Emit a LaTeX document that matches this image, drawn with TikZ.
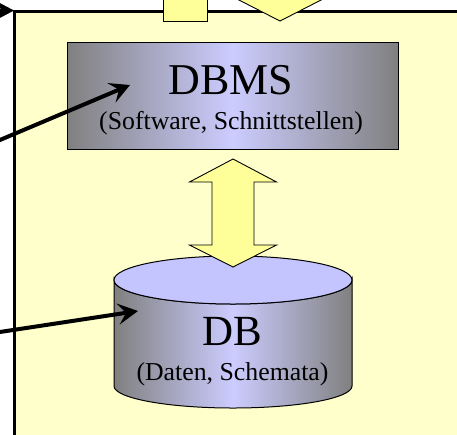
\documentclass[tikz,border=0pt]{standalone}
\usepackage{fontspec}
\setmainfont{Liberation Serif}
\usetikzlibrary{arrows.meta}
\definecolor{bgyellow}{HTML}{FFFFCC}
\definecolor{arrowyellow}{HTML}{FFFF99}
\definecolor{lav}{HTML}{CCCCFF}
\definecolor{lavtop}{HTML}{C4C4FF}
\definecolor{sidegray}{HTML}{808080}
\tikzset{
  panel/.style={fill=bgyellow, draw=black, line width=3pt},
  bigarrow/.style={fill=arrowyellow, draw=black, line width=0.9pt, line join=miter},
  gradbox/.style={draw=black, line width=1pt, left color=sidegray, right color=sidegray, middle color=lav},
  pointer/.style={line width=4pt, -{Stealth[length=20pt,width=21pt,inset=8pt]}},
  titletext/.style={font=\fontsize{44}{44}\selectfont, anchor=base, inner sep=0pt},
  subtext/.style={font=\fontsize{25.8}{25.8}\selectfont, anchor=base, inner sep=0pt},
}
\begin{document}
\begin{tikzpicture}[x=1pt,y=-1pt]
\useasboundingbox (0,0) rectangle (457,434);
\clip (0,0) rectangle (457,434);
% panel
\draw[panel] (14,11) rectangle (490,470);
% top arrows (partly visible)
\draw[bigarrow] (163,-10) -- (163,21) -- (207,21) -- (207,-10);
\draw[bigarrow] (259,-30) -- (259,-1) -- (237,-1) -- (280,21) -- (323,-1) -- (301,-1) -- (301,-30) -- cycle;
% DBMS box
\node[gradbox, minimum width=331pt, minimum height=107pt, inner sep=0pt] (dbms) at (232.5,95.5) {};
\node[titletext] (dbmstitle) at (231,94) {DBMS};
\node[subtext] (dbmssub) at (231,129) {(Software, Schnittstellen)};
% DB cylinder
\shade[draw=black, line width=1pt, left color=sidegray, right color=sidegray, middle color=lav]
  (114,280) -- (114,386) arc[start angle=180, end angle=0, x radius=119, y radius=22]
  -- (352,280) arc[start angle=0, end angle=180, x radius=119, y radius=24] -- cycle;
\draw[fill=lavtop, line width=1pt] (233,280) ellipse[x radius=119, y radius=24];
\node[titletext, font=\fontsize{43}{43}\selectfont] (dbtitle) at (232,345) {DB};
\node[subtext] (dbsub) at (232.5,380) {(Daten, Schemata)};
% middle double arrow
\draw[bigarrow] (233,159) -- (276.5,182) -- (254,182) -- (254,245) -- (276.5,245) -- (233,267)
  -- (189.5,245) -- (212,245) -- (212,182) -- (189.5,182) -- cycle;
% pointers
\coordinate (src0) at (-60,10.5);
\coordinate (corner) at (14,10.5);
\coordinate (src1) at (-10,144.2);
\coordinate (dbmsin) at (130,85);
\coordinate (src2) at (-10,333.5);
\coordinate (dbin) at (138,311);
\draw[pointer] (src0) -- (corner);
\draw[pointer] (src1) -- (dbmsin);
\draw[pointer] (src2) -- (dbin);
\end{tikzpicture}
\end{document}
